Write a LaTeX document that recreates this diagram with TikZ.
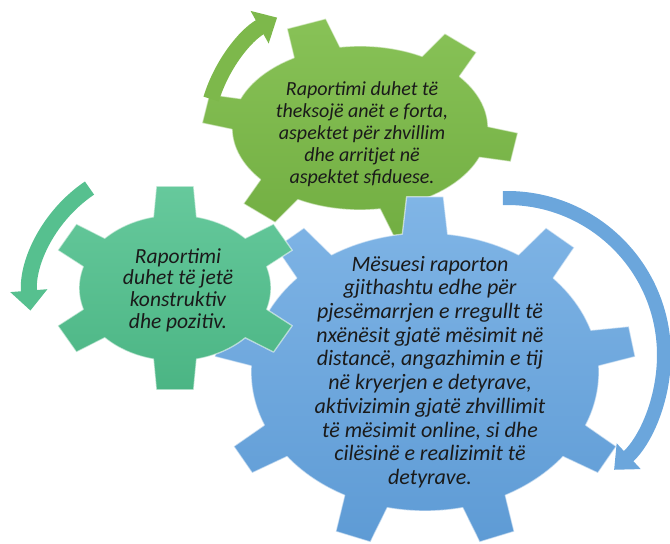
\documentclass[tikz,border=0pt]{standalone}
\usepackage{fontspec}
\setmainfont{Carlito}[ItalicFont={Carlito Italic}]
\usetikzlibrary{arrows.meta,calc}
\definecolor{gblue}{HTML}{6BA6DC}
\definecolor{gbluetop}{HTML}{80B5E6}
\definecolor{gbluebot}{HTML}{5E9BD5}
\definecolor{ggreen}{HTML}{7DB84B}
\definecolor{ggreentop}{HTML}{88C257}
\definecolor{ggreenbot}{HTML}{72AE42}
\definecolor{gteal}{HTML}{56C08F}
\definecolor{gtealtop}{HTML}{66C99C}
\definecolor{gtealbot}{HTML}{4BB584}
\definecolor{txt}{HTML}{1A1A1A}
% #1 cx, #2 cy, #3 rx, #4 ry, #5 tooth length, #6 n, #7 first angle, #8 base half angle, #9 tip half angle
\newcommand\mygear[9]{%
  ({#1+#3*cos(#7-#8)},{#2+#4*sin(#7-#8)})
  \foreach \k in {1,...,#6}{
    -- ({#1+(#3+#5)*cos(#7+(\k-1)*360/#6-#9)},{#2+(#4+#5)*sin(#7+(\k-1)*360/#6-#9)})
    -- ({#1+(#3+#5)*cos(#7+(\k-1)*360/#6+#9)},{#2+(#4+#5)*sin(#7+(\k-1)*360/#6+#9)})
    -- ({#1+#3*cos(#7+(\k-1)*360/#6+#8)},{#2+#4*sin(#7+(\k-1)*360/#6+#8)})
    arc[start angle={#7+(\k-1)*360/#6+#8}, end angle={#7+\k*360/#6-#8}, x radius=#3pt, y radius=#4pt]
  } -- cycle}
\tikzset{
  bevel/.style={draw=white, draw opacity=0.55, line width=1.3pt, line join=round},
  geartext/.style={inner sep=0pt, align=center, text=txt},
  curvedarrow/.style={line cap=butt}
}
\begin{document}
\begin{tikzpicture}[x=1pt,y=1pt]
\useasboundingbox (0,0) rectangle (670,544);
% green gear (top)
\shade[top color=ggreentop, bottom color=ggreenbot] \mygear{360}{416}{128}{82}{30}{6}{-10}{11}{7.5};
\draw[bevel] \mygear{360}{416}{128}{82}{30}{6}{-10}{11}{7.5};
% blue gear (large)
\shade[top color=gbluetop, bottom color=gbluebot] \mygear{425}{172}{174}{139}{37}{9}{90}{7.5}{5};
\draw[bevel] \mygear{425}{172}{174}{139}{37}{9}{90}{7.5}{5};
% teal gear (left)
\shade[top color=gtealtop, bottom color=gtealbot] \mygear{175}{256}{96}{73}{30}{6}{90}{13}{8.5};
\draw[bevel] \mygear{175}{256}{96}{73}{30}{6}{90}{13}{8.5};
% arrows
\coordinate (ga) at (345,404);
\draw[curvedarrow, ggreen, line width=16pt, -{Triangle[width=36pt,length=20pt]}]
  ($(ga)+(163:140)$) arc[start angle=163, end angle=119, radius=140pt];
\coordinate (ta) at (165,244);
\draw[curvedarrow, gteal, line width=16pt, -{Triangle[width=36pt,length=20pt]}]
  ($(ta)+(124:135)$) arc[start angle=124, end angle=184.5, radius=135pt];
\coordinate (ba) at (507,189);
\draw[curvedarrow, gblue, line width=14pt, -{Triangle[width=34pt,length=20pt]}]
  ($(ba)+(91.5:157)$) arc[start angle=91.5, end angle=-47, radius=157pt];
% texts
\node[geartext, font=\itshape\fontsize{20}{22}\selectfont] (gt) at (362,410)
  {Raportimi duhet të\\theksojë anët e forta,\\aspektet për zhvillim\\dhe arritjet në\\aspektet sfiduese.};
\node[geartext, font=\itshape\fontsize{21.5}{21.7}\selectfont] (tt) at (178,254)
  {Raportimi\\duhet të jetë\\konstruktiv\\dhe pozitiv.};
\node[geartext, font=\itshape\fontsize{22}{23.7}\selectfont] (bt) at (430,172)
  {Mësuesi raporton\\gjithashtu edhe për\\pjesëmarrjen e rregullt të\\nxënësit gjatë mësimit në\\distancë, angazhimin e tij\\në kryerjen e detyrave,\\aktivizimin gjatë zhvillimit\\të mësimit online, si dhe\\cilësinë e realizimit të\\detyrave.};
\end{tikzpicture}
\end{document}
